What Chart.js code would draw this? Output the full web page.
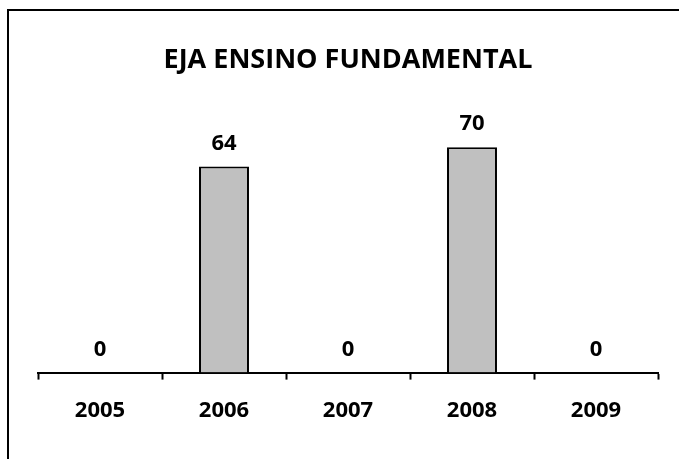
<!DOCTYPE html>
<html>
<head>
<meta charset="utf-8">
<script src="https://cdn.jsdelivr.net/npm/chart.js@4"></script>
<style>
  html, body { margin: 0; padding: 0; background: #fff; }
  #wrap { width: 679px; height: 459px; position: relative; }
</style>
</head>
<body>
<div id="wrap"><canvas id="c" width="679" height="459"></canvas></div>
<script>
const chartTitle = "EJA ENSINO FUNDAMENTAL";
const categories = ["2005", "2006", "2007", "2008", "2009"];
const values = [0, 64, 0, 70, 0];

const FONT = "'Open Sans', 'DejaVu Sans', sans-serif";

const frame = {
  id: 'frame',
  beforeDraw(chart) {
    const ctx = chart.ctx;
    ctx.save();
    ctx.fillStyle = '#fff';
    ctx.fillRect(0, 0, chart.width, chart.height);
    ctx.strokeStyle = '#000';
    ctx.lineWidth = 2;
    ctx.beginPath();
    ctx.moveTo(8, chart.height + 5);
    ctx.lineTo(8, 10);
    ctx.lineTo(chart.width + 5, 10);
    ctx.stroke();
    ctx.restore();
  }
};

const valueLabels = {
  id: 'valueLabels',
  afterDatasetsDraw(chart) {
    const ctx = chart.ctx;
    const meta = chart.getDatasetMeta(0);
    ctx.save();
    ctx.fillStyle = '#000';
    ctx.font = "bold 22px " + FONT;
    ctx.textAlign = 'center';
    ctx.textBaseline = 'middle';
    meta.data.forEach((bar, i) => {
      ctx.fillText(String(values[i]), bar.x, bar.y - 23);
    });
    ctx.restore();
  }
};

new Chart(document.getElementById('c'), {
  type: 'bar',
  data: {
    labels: categories,
    datasets: [{
      data: values,
      backgroundColor: '#C0C0C0',
      borderColor: '#000',
      borderWidth: 2,
      barPercentage: 0.403,
      categoryPercentage: 1.0
    }]
  },
  options: {
    responsive: false,
    animation: false,
    layout: { padding: { left: 38, right: 21, top: 0, bottom: 17 } },
    plugins: {
      legend: { display: false },
      tooltip: { enabled: false },
      title: {
        display: true,
        text: chartTitle,
        color: '#000',
        font: { family: FONT, size: 27, weight: 'bold', lineHeight: 1.2 },
        padding: { top: 43.8, bottom: 38.8 }
      }
    },
    scales: {
      y: {
        display: false,
        min: 0,
        max: 80
      },
      x: {
        offset: true,
        grid: {
          offset: true,
          drawOnChartArea: false,
          drawTicks: true,
          tickLength: 7,
          tickWidth: 2,
          tickColor: '#000'
        },
        border: { display: true, color: '#000', width: 2 },
        ticks: {
          color: '#000',
          padding: 18,
          font: { family: FONT, size: 22, weight: 'bold', lineHeight: 1.2 }
        }
      }
    }
  },
  plugins: [frame, valueLabels]
});
</script>
</body>
</html>
